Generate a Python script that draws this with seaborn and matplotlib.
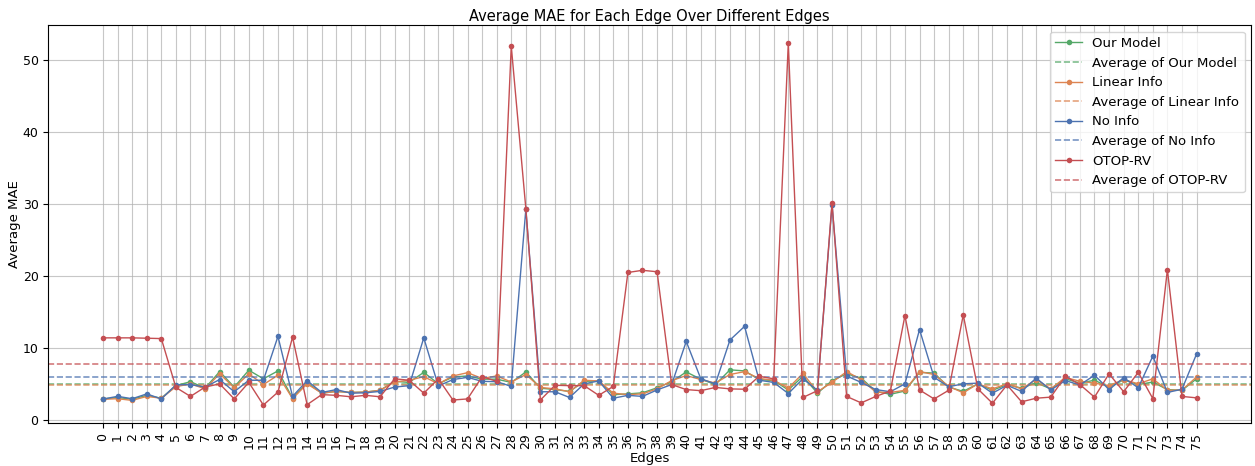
import numpy as np
import pandas as pd
import matplotlib
matplotlib.use("Agg")
import matplotlib.pyplot as plt
import seaborn as sns

# --------------------------------------------------------------
# Data
# --------------------------------------------------------------
edges = list(range(76))

our_model = [
    2.9, 3.1, 2.85, 3.4, 3.0, 4.75, 5.3, 4.4, 6.7, 4.55, 6.9,
    5.7, 6.8, 3.0, 5.15, 3.7, 3.95, 3.8, 3.85, 4.1, 5.35, 5.2, 6.6, 5.0,
    5.95, 6.1, 5.65, 5.65, 5.2, 6.65, 4.4, 4.2, 3.95, 5.35, 5.4, 3.5, 3.6,
    3.75, 4.45, 5.3, 6.65, 5.65, 4.9, 6.95, 6.8, 5.6, 5.45, 4.15, 6.05, 3.7,
    5.45, 6.4, 5.8, 3.95, 3.55, 4.0, 6.6, 6.5, 4.55, 3.95, 5.0, 4.1, 4.9,
    4.4, 5.15, 4.3, 5.7, 5.1, 5.5, 4.55, 5.55, 4.9, 5.25, 4.2, 4.1, 5.7,
]

linear_info = [
    2.85, 2.93, 2.7, 3.25, 3.0, 4.6, 5.0, 4.3, 6.4, 4.45, 6.4,
    4.9, 6.2, 2.95, 5.0, 3.7, 3.95, 3.8, 3.85, 4.1, 5.25, 5.5, 6.0, 5.0,
    6.1, 6.55, 5.75, 6.1, 5.25, 6.3, 4.5, 4.3, 3.9, 5.5, 5.4, 3.7, 3.5,
    3.6, 4.3, 5.45, 6.15, 5.6, 5.1, 6.3, 6.7, 5.75, 5.5, 4.4, 6.45, 3.9,
    5.2, 6.7, 5.6, 3.85, 3.8, 4.1, 6.7, 6.3, 4.65, 3.75, 5.0, 4.3, 5.0,
    4.3, 5.6, 4.3, 5.9, 5.35, 5.1, 4.75, 5.6, 5.0, 5.7, 4.1, 4.15, 5.95,
]

no_info = [
    2.88, 3.26, 2.93, 3.6, 2.9, 4.85, 4.9, 4.55, 5.6, 3.9, 5.5,
    5.5, 11.6, 3.25, 5.45, 3.8, 4.2, 3.7, 3.75, 3.95, 4.55, 4.75, 11.4, 4.7,
    5.6, 5.9, 5.35, 5.3, 4.65, 29.3, 3.9, 3.9, 3.1, 5.0, 5.4, 3.0, 3.4,
    3.25, 4.15, 4.9, 10.9, 5.7, 5.0, 11.1, 13.0, 5.5, 5.2, 3.65, 5.7, 4.1,
    29.9, 6.1, 5.2, 4.2, 3.9, 5.0, 12.55, 5.9, 4.6, 5.0, 5.1, 3.7, 4.8,
    3.95, 5.8, 4.15, 5.45, 4.85, 6.2, 4.2, 5.85, 4.45, 8.85, 3.8, 4.25, 9.15,
]

otop_rv = [
    11.4, 11.4, 11.4, 11.35, 11.3, 4.5, 3.25, 4.55, 5.0, 2.9, 5.2,
    2.05, 3.85, 11.5, 2.1, 3.5, 3.4, 3.2, 3.4, 3.2, 5.7, 5.5, 3.7, 5.7,
    2.75, 2.9, 6.0, 5.35, 52.0, 29.4, 2.75, 4.8, 4.75, 4.75, 3.4, 4.65, 20.5,
    20.8, 20.6, 4.9, 4.2, 4.05, 4.5, 4.3, 4.25, 6.05, 5.7, 52.4, 3.1, 4.05,
    30.2, 3.25, 2.35, 3.25, 4.0, 14.5, 4.15, 2.9, 4.1, 14.6, 4.3, 2.3, 4.85,
    2.5, 3.0, 3.15, 6.05, 4.9, 3.15, 6.4, 3.9, 6.6, 2.95, 20.9, 3.25, 3.05,
]

series_names = ["Our Model", "Linear Info", "No Info", "OTOP-RV"]
series_values = [our_model, linear_info, no_info, otop_rv]

palette = sns.color_palette("deep")
series_colors = [palette[2], palette[1], palette[0], palette[3]]

# --------------------------------------------------------------
# Plot
# --------------------------------------------------------------
fig, ax = plt.subplots(figsize=(12.55, 4.66), dpi=100)
fig.subplots_adjust(left=0.0385, right=0.997, top=0.946, bottom=0.092)

for name, values, color in zip(series_names, series_values, series_colors):
    df = pd.DataFrame({"Edge": edges, "MAE": values})
    sns.lineplot(
        data=df,
        x="Edge",
        y="MAE",
        marker="o",
        markersize=4,
        markeredgewidth=0,
        linewidth=1,
        color=color,
        label=name,
        ax=ax,
    )
    # dashed line at the mean of each series
    ax.axhline(
        np.mean(values),
        color=color,
        linestyle="--",
        linewidth=1.2,
        alpha=0.75,
        label=f"Average of {name}",
    )

ax.set_xticks(edges)
ax.set_xticklabels([str(e) for e in edges], rotation=90, fontsize=9)
ax.tick_params(axis="y", labelsize=9)
ax.set_xlabel("Edges", fontsize=9.5, labelpad=2)
ax.set_ylabel("Average MAE", fontsize=9.5, labelpad=1)
ax.set_title("Average MAE for Each Edge Over Different Edges", fontsize=10.5, pad=3)
ax.grid(True, color="#b0b0b0", linewidth=0.8, alpha=0.7)
ax.legend(loc="upper right", fontsize=9.5)

plt.savefig("out.png", dpi=100)
